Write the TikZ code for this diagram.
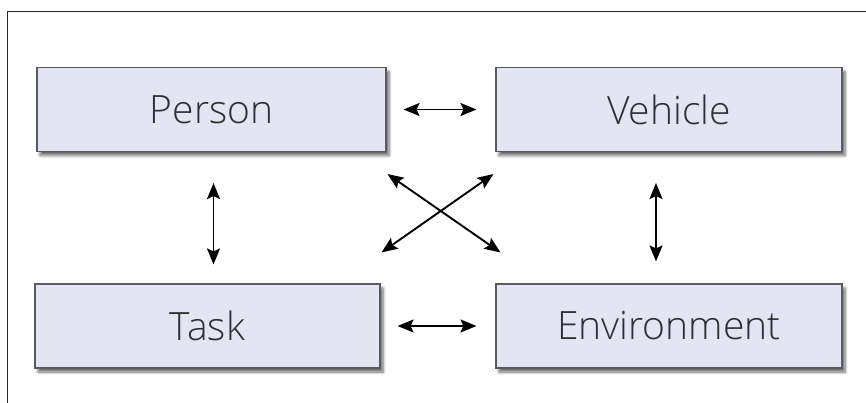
\documentclass[tikz,border=0pt]{standalone}
\usepackage{fontspec}
\setmainfont{Open Sans}[UprightFont=* Light]
\usetikzlibrary{arrows.meta,shadows.blur}
\definecolor{boxfill}{HTML}{E4E5F2}
\definecolor{boxline}{HTML}{5A5A5E}
\definecolor{boxtext}{HTML}{2E2E33}
\begin{document}
\begin{tikzpicture}[x=1pt,y=-1pt,
  factor/.style={draw=boxline, line width=1.1pt, fill=boxfill, rectangle,
    minimum height=84pt, text=boxtext, font=\fontsize{39}{46}\selectfont,
    blur shadow={shadow xshift=3pt, shadow yshift=-4pt, shadow blur radius=3pt, shadow blur steps=6, shadow opacity=60}},
  link/.style={line width=1.9pt, {Stealth[length=16pt,width=13pt,inset=3pt]}-{Stealth[length=16pt,width=13pt,inset=3pt]}}
]
\useasboundingbox (0,0) rectangle (866,403);
% open frame: top and left edges only
\draw[line width=1pt, black!85] (866,12) -- (7.5,12) -- (7.5,403);

\node[factor, minimum width=349pt] (person) at (211.5,109.5) {Person};
\node[factor, minimum width=346pt] (vehicle) at (669,109.5) {Vehicle};
\node[factor, minimum width=345pt] (task) at (207.5,326) {Task};
\node[factor, minimum width=346pt] (env) at (669,326) {Environment};

% pairwise links
\draw[link, shorten <=17pt, shorten >=19pt] (person.east) -- (vehicle.west);
\draw[link, shorten <=17pt, shorten >=19pt] (task.east) -- (env.west);
\draw[link, shorten <=31pt, shorten >=19pt] ([xshift=2pt]person.south) -- ([xshift=6pt]task.north);
\draw[link, shorten <=31pt, shorten >=22pt] ([xshift=-13pt]vehicle.south) -- ([xshift=-13pt]env.north);
\draw[link] ([shift={(1,22)}]person.south east) -- ([shift={(5,-31)}]env.north west);
\draw[link] ([shift={(-2,22)}]vehicle.south west) -- ([shift={(1,-31)}]task.north east);
\end{tikzpicture}
\end{document}
